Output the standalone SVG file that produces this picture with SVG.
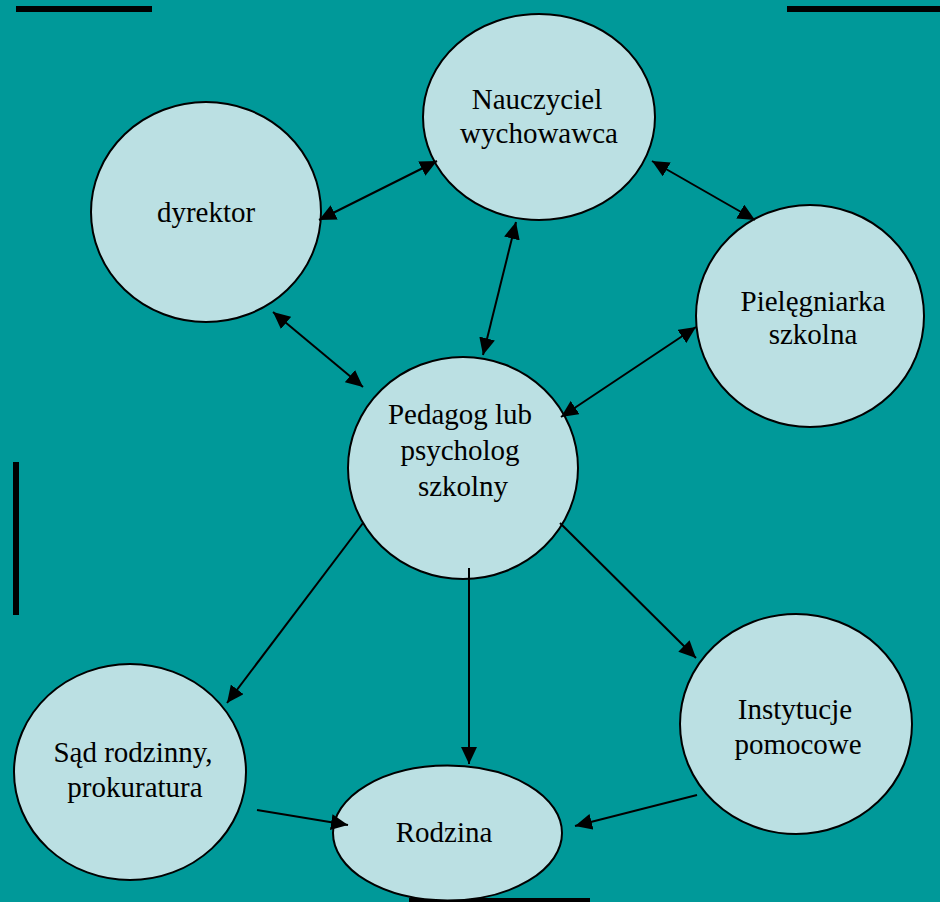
<svg xmlns="http://www.w3.org/2000/svg" width="940" height="902" viewBox="0 0 940 902">
  <style>
    .node ellipse { fill: #BBE0E3; stroke: #000; stroke-width: 2; }
    .node text { font-family: "Liberation Serif", "Times New Roman", serif; font-size: 29px; fill: #000; text-anchor: middle; }
    .bar { fill: #000; }
    #connectors line { stroke: #000; stroke-width: 2; }
    .one { marker-end: url(#arrow); }
    .two { marker-start: url(#arrow); marker-end: url(#arrow); }
  </style>
  <defs>
    <marker id="arrow" markerUnits="userSpaceOnUse" markerWidth="18" markerHeight="16" viewBox="0 0 18 16" refX="17" refY="8" orient="auto-start-reverse">
      <path d="M0,0 L17,8 L0,16 Z" fill="#000"/>
    </marker>
  </defs>
  <rect x="0" y="0" width="940" height="902" fill="#009999"/>
  <g id="decor">
    <rect class="bar" x="16" y="6" width="136" height="6"/>
    <rect class="bar" x="787" y="6" width="153" height="6"/>
    <rect class="bar" x="13" y="462" width="6" height="153"/>
    <rect class="bar" x="409" y="898" width="181" height="4"/>
  </g>
  <g id="nauczyciel" class="node">
    <ellipse cx="539" cy="117" rx="116" ry="103"/>
    <text x="537" y="109">Nauczyciel</text>
    <text x="539" y="143">wychowawca</text>
  </g>
  <g id="dyrektor" class="node">
    <ellipse cx="206" cy="212" rx="115" ry="110"/>
    <text x="206" y="222">dyrektor</text>
  </g>
  <g id="pielegniarka" class="node">
    <ellipse cx="810" cy="316" rx="114" ry="111"/>
    <text x="813" y="311">Pielęgniarka</text>
    <text x="813" y="344">szkolna</text>
  </g>
  <g id="pedagog" class="node">
    <ellipse cx="463" cy="468" rx="115" ry="111"/>
    <text x="460" y="424">Pedagog lub</text>
    <text x="460" y="460">psycholog</text>
    <text x="463" y="496">szkolny</text>
  </g>
  <g id="sad" class="node">
    <ellipse cx="130" cy="772" rx="116" ry="108"/>
    <text x="133" y="762">Sąd rodzinny,</text>
    <text x="135" y="797">prokuratura</text>
  </g>
  <g id="instytucje" class="node">
    <ellipse cx="796" cy="724" rx="116" ry="110"/>
    <text x="795" y="719">Instytucje</text>
    <text x="798" y="754">pomocowe</text>
  </g>
  <g id="rodzina" class="node">
    <ellipse cx="447.5" cy="833" rx="114.5" ry="67.5"/>
    <text x="444" y="842">Rodzina</text>
  </g>
  <g id="connectors">
    <line class="two" x1="319" y1="220" x2="437" y2="161"/>
    <line class="two" x1="273" y1="312" x2="363" y2="387"/>
    <line class="two" x1="652" y1="161" x2="755" y2="220"/>
    <line class="two" x1="696" y1="327" x2="561" y2="417"/>
    <line class="two" x1="516" y1="222" x2="483" y2="355"/>
    <line class="one" x1="363" y1="523" x2="227" y2="703"/>
    <line class="one" x1="469" y1="568" x2="469" y2="764"/>
    <line class="one" x1="560" y1="523" x2="696" y2="658"/>
    <line class="one" x1="257" y1="810" x2="348" y2="825"/>
    <line class="one" x1="697" y1="795" x2="575" y2="826"/>
  </g>
</svg>
